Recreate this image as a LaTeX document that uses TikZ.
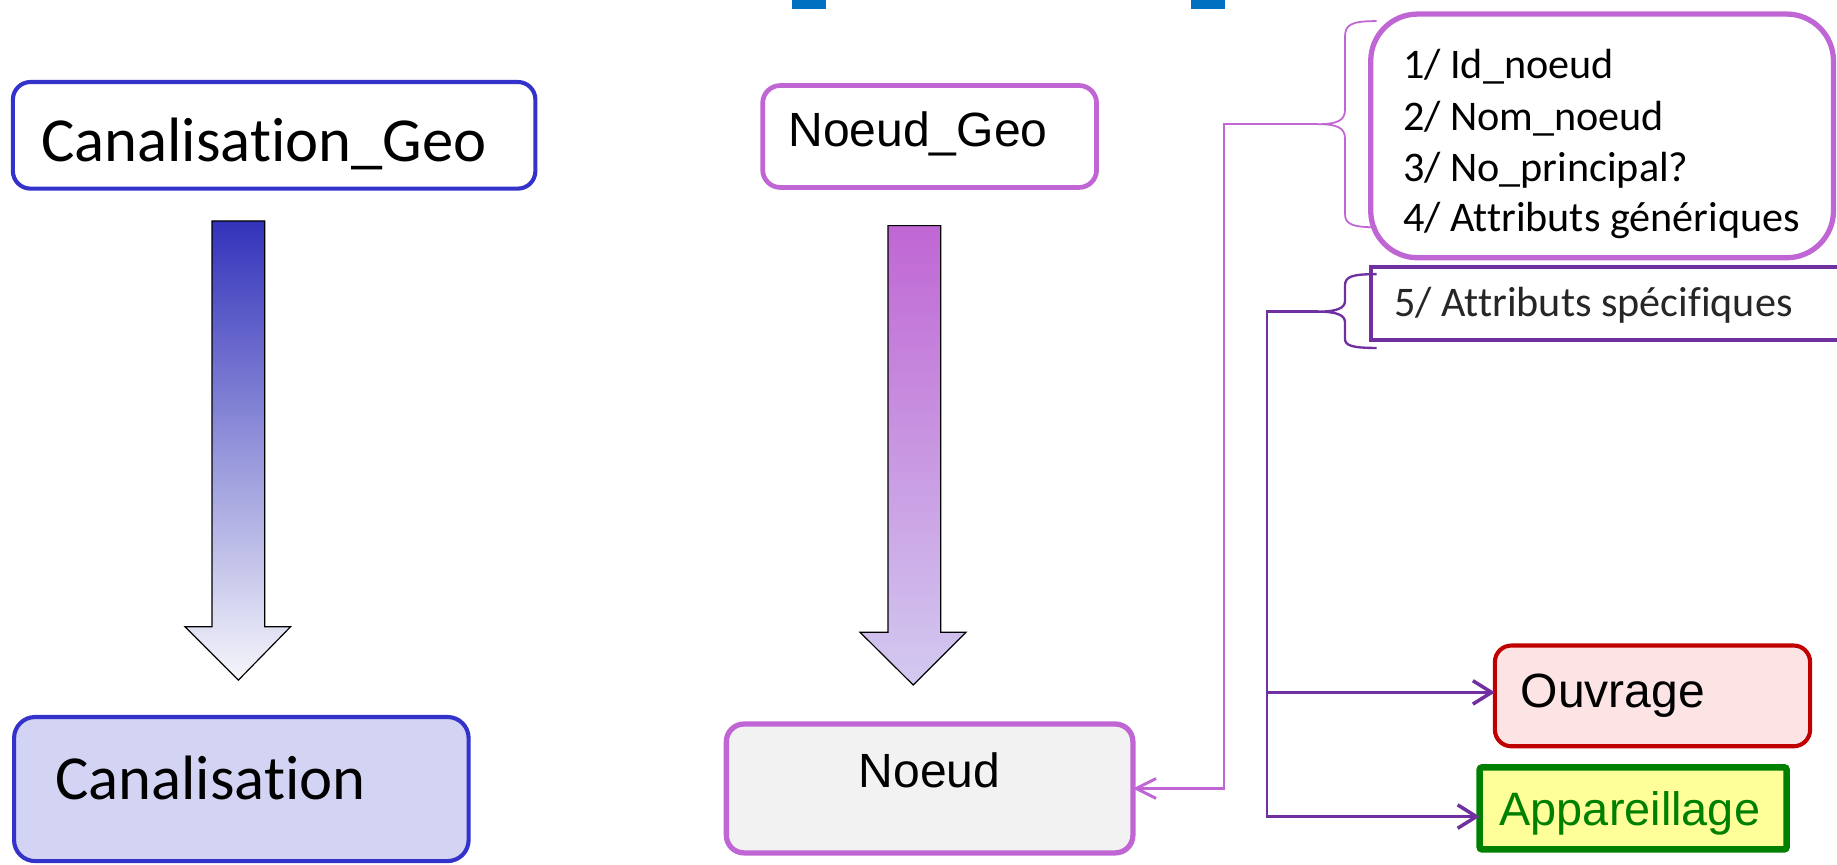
\documentclass[tikz,border=0pt]{standalone}
\usepackage{fontspec}
\setmainfont{Carlito}[Ligatures={NoCommon,NoContextual}]
\newfontfamily\arialf{Liberation Sans}
\usetikzlibrary{arrows.meta}
\definecolor{bluebd}{RGB}{51,51,204}
\definecolor{canfill}{RGB}{211,211,243}
\definecolor{orchidc}{RGB}{192,102,212}
\definecolor{purplec}{RGB}{112,48,160}
\definecolor{redc}{RGB}{192,0,0}
\definecolor{pinkfill}{RGB}{252,228,228}
\definecolor{greenc}{RGB}{0,128,0}
\definecolor{yellowfill}{RGB}{255,255,153}
\definecolor{topblue}{RGB}{0,112,192}
\definecolor{noeudfill}{RGB}{242,242,242}
\definecolor{arrowbluetop}{RGB}{51,51,187}
\definecolor{arrowbluebot}{RGB}{246,246,251}
\definecolor{arrowpurptop}{RGB}{192,102,212}
\definecolor{arrowpurpbot}{RGB}{210,202,240}
\definecolor{textgray}{RGB}{38,38,38}
\begin{document}
\begin{tikzpicture}[x=1pt,y=-1pt,
  box/.style={inner sep=0pt, outer sep=0pt, anchor=north west},
  lbl/.style={anchor=base west, inner sep=0pt, outer sep=0pt},
  calbig/.style={font=\fontsize{53.5}{60}\selectfont},
  calmid/.style={font=\fontsize{36}{43}\selectfont},
  arialmid/.style={font=\arialf\fontsize{41}{48}\selectfont},
  bracea/.style={draw=orchidc, line width=1.5pt},
  braceb/.style={draw=purplec, line width=2pt},
  conna/.style={draw=orchidc, line width=1.8pt},
  connb/.style={draw=purplec, line width=2pt},
  tipa/.style={-{Straight Barb[length=17pt,width=17pt,line width=2.5pt]}},
  tipb/.style={-{Straight Barb[length=16pt,width=20pt,line width=3pt]}}
]
\useasboundingbox (0,0) rectangle (1568,738.3);

% top marks
\fill[topblue] (676,0) rectangle (705,8);
\fill[topblue] (1017,0) rectangle (1046,8);

% left column
\node[box, draw=bluebd, fill=white, line width=3.5pt, rounded corners=15pt,
      minimum width=446pt, minimum height=91pt] (cg) at (11,70) {};
\node[lbl, calbig] (cgt) at (35,138) {Canalisation\_Geo};

\shadedraw[top color=arrowbluetop, bottom color=arrowbluebot, draw=black, line width=1pt]
  (181,188.6) -- (226,188.6) -- (226,535) -- (248,535) -- (203.5,580.5)
  -- (158,535) -- (181,535) -- cycle;

\node[box, draw=bluebd, fill=canfill, line width=3.5pt, rounded corners=18pt,
      minimum width=388pt, minimum height=123pt] (c) at (12,612) {};
\node[lbl, calbig] (ct) at (47,682) {Canalisation};

% middle column
\node[box, draw=orchidc, fill=white, line width=4pt, rounded corners=15pt,
      minimum width=285pt, minimum height=87pt] (ng) at (651,73) {};
\node[lbl, arialmid] (ngt) at (673,125) {Noeud\_Geo};

\shadedraw[top color=arrowpurptop, bottom color=arrowpurpbot, draw=black, line width=1pt]
  (758,192.6) -- (803,192.6) -- (803,539.6) -- (824.6,539.6) -- (779.5,584.7)
  -- (734,539.6) -- (758,539.6) -- cycle;

\node[box, draw=orchidc, fill=noeudfill, line width=4.5pt, rounded corners=15pt,
      minimum width=347pt, minimum height=110pt] (n) at (620,618) {};
\node[anchor=base, inner sep=0pt, arialmid] (nt) at (793.5,672.6) {Noeud};

% right column: attributes
\node[box, draw=orchidc, fill=white, line width=4.5pt, rounded corners=40pt,
      minimum width=395pt, minimum height=208pt] (attr) at (1170,12) {};
\node[lbl, calmid] (a1) at (1197.6,67.4) {1/ Id\_noeud};
\node[lbl, calmid] (a2) at (1197.6,111.5) {2/ Nom\_noeud};
\node[lbl, calmid] (a3) at (1197.6,155) {3/ No\_principal?};
\node[lbl, calmid] (a4) at (1197.6,197.8) {4/ Attributs génériques};

\node[box, draw=purplec, fill=white, line width=3.5pt,
      minimum width=410pt, minimum height=62pt] (spec) at (1170,228) {};
\node[lbl, calmid, text=textgray] (a5) at (1190,270) {5/ Attributs spécifiques};

% braces
\path[bracea] (1175,18) .. controls (1153,18) and (1148,21) .. (1148,32)
  -- (1148,94) .. controls (1148,103) and (1141,106) .. (1125,106)
  .. controls (1141,106) and (1148,109) .. (1148,118)
  -- (1148,182) .. controls (1148,191) and (1153,194) .. (1175,194);
\path[braceb] (1175,234) .. controls (1154,234) and (1148,236) .. (1148,244)
  -- (1148,257) .. controls (1148,263) and (1141,266) .. (1125,266)
  .. controls (1141,266) and (1148,269) .. (1148,275)
  -- (1148,289) .. controls (1148,295) and (1154,297) .. (1175,297);

% subtype boxes
\node[box, draw=redc, fill=pinkfill, line width=3.5pt, rounded corners=14pt,
      minimum width=269pt, minimum height=86pt] (ouv) at (1276,551) {};
\node[lbl, arialmid] (ouvt) at (1298,603.6) {Ouvrage};

\node[box, draw=greenc, fill=yellowfill, line width=5.5pt, rounded corners=2pt,
      minimum width=262pt, minimum height=70pt] (app) at (1263,655) {};
\node[lbl, font=\arialf\fontsize{40}{46}\selectfont, text=greenc] (appt) at (1280,705) {Appareillage};

% connectors
\coordinate (b1tip) at (1125,106);
\coordinate (j1) at (1045,106);
\draw[conna, tipa] (b1tip) -- (j1) |- (n.east);

\coordinate (b2tip) at (1125,266);
\coordinate (j2) at (1081.5,266);
\coordinate (ouvin) at ([yshift=3pt]ouv.west);
\coordinate (appin) at ([yshift=-7pt]app.west);
\draw[connb, tipb] (b2tip) -- (j2) |- (appin);
\draw[connb, tipb] (j2 |- ouvin) -- (ouvin);
\end{tikzpicture}
\end{document}
